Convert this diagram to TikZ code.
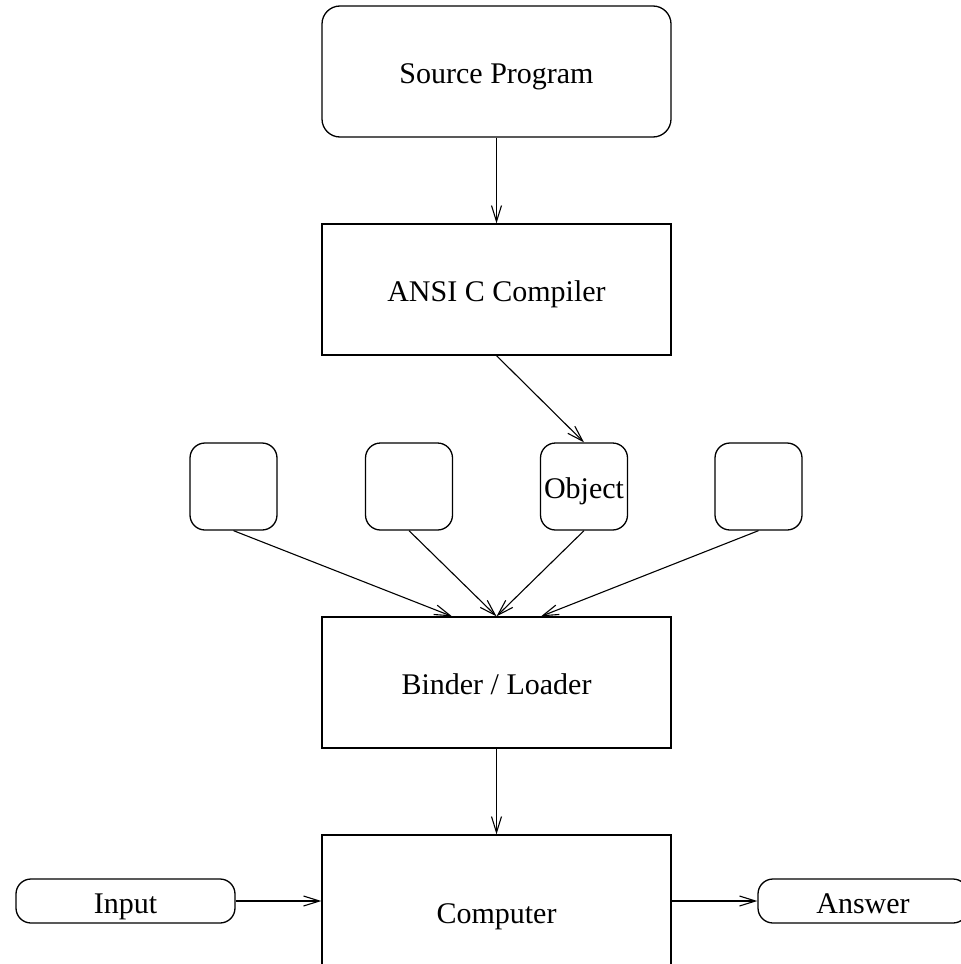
\documentclass[tikz,border=0pt]{standalone}
\usepackage{fontspec}
\setmainfont{Liberation Serif}
\usetikzlibrary{arrows.meta,calc}

\tikzset{
  every node/.style={font=\fontsize{30}{36}\selectfont, inner sep=0pt, text height=24pt, text depth=0pt},
  stage/.style={draw, line width=1.3pt, rectangle, minimum width=349pt, minimum height=131pt},
  roundstage/.style={stage, rounded corners=18pt},
  module/.style={draw, line width=1.3pt, rectangle, rounded corners=15pt, minimum width=87pt, minimum height=87pt},
  port/.style={draw, line width=1.3pt, rectangle, rounded corners=15pt, minimum height=44pt},
  flow/.style={line width=1.1pt, -{Straight Barb[length=16pt, width=10pt, line width=1.1pt]}}
}

\begin{document}
\begin{tikzpicture}[x=1pt, y=-1pt]
  \useasboundingbox (0,0) rectangle (961,964);

  % main pipeline
  \node[roundstage] (src)      at (496.5,71.5)  {Source Program};
  \node[stage]      (compiler) at (496.5,289.5) {ANSI C Compiler};

  % object modules
  \node[module] (obj1) at (233.5,486.5) {};
  \node[module] (obj2) at (409,486.5)   {};
  \node[module] (obj3) at (584,486.5)   {Object};
  \node[module] (obj4) at (758.5,486.5) {};

  \node[stage] (binder)   at (496.5,682.5) {Binder / Loader};
  \node[stage, minimum height=152pt] (computer) at (496.5,911) {Computer};

  % input and output
  \node[port, minimum width=219pt] (input)  at (125.5,901) {Input};
  \node[port, minimum width=210pt] (answer) at (863,901)   {Answer};

  % connectors
  \draw[flow] (src.south) -- (compiler.north);
  \draw[flow] (compiler.south) -- (obj3.north);
  \draw[flow] (obj1.south) -- ($(binder.north)+(-44.5,0)$);
  \draw[flow] (obj2.south) -- (binder.north);
  \draw[flow] (obj3.south) -- (binder.north);
  \draw[flow] (obj4.south) -- ($(binder.north)+(44.5,0)$);
  \draw[flow] (binder.south) -- (computer.north);
  \draw[flow] (input.east) -- (input.east -| computer.west);
  \draw[flow] (input.east -| computer.east) -- (answer.west);
\end{tikzpicture}
\end{document}
